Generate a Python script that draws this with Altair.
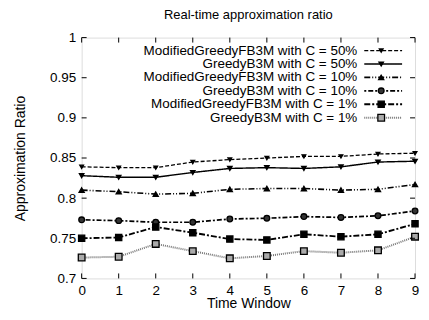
import altair as alt
import pandas as pd

windows = [0, 1, 2, 3, 4, 5, 6, 7, 8, 9]
series_names = [
    "ModifiedGreedyFB3M with C = 50%",
    "GreedyB3M with C = 50%",
    "ModifiedGreedyFB3M with C = 10%",
    "GreedyB3M with C = 10%",
    "ModifiedGreedyFB3M with C = 1%",
    "GreedyB3M with C = 1%",
]
mg50 = [0.839, 0.838, 0.838, 0.845, 0.848, 0.850, 0.852, 0.852, 0.855, 0.856]
g50 = [0.828, 0.826, 0.826, 0.832, 0.837, 0.838, 0.837, 0.839, 0.845, 0.846]
mg10 = [0.810, 0.808, 0.805, 0.806, 0.811, 0.812, 0.812, 0.810, 0.811, 0.817]
g10 = [0.773, 0.772, 0.770, 0.770, 0.774, 0.775, 0.777, 0.776, 0.778, 0.784]
mg1 = [0.750, 0.751, 0.764, 0.757, 0.749, 0.748, 0.755, 0.752, 0.755, 0.768]
g1 = [0.726, 0.727, 0.743, 0.734, 0.725, 0.728, 0.734, 0.732, 0.735, 0.752]
y_ticks = [0.7, 0.75, 0.8, 0.85, 0.9, 0.95, 1.0]

values = [mg50, g50, mg10, g10, mg1, g1]
rows = []
for name, vals in zip(series_names, values):
    for w, v in zip(windows, vals):
        rows.append({"series": name, "window": w, "ratio": v})
df = pd.DataFrame(rows)

FONT = "Liberation Sans"

dash_scale = alt.Scale(domain=series_names,
                       range=[[4, 2], [1, 0], [6, 2, 1, 2, 1, 2], [2, 2, 5, 2], [6, 2, 2, 2], [1, 1]])
stroke_scale = alt.Scale(domain=series_names,
                         range=["#000", "#000", "#000", "#000", "#000", "#777"])
width_scale = alt.Scale(domain=series_names, range=[1.3, 2.0, 1.3, 1.3, 1.3, 1.5])
shape_scale = alt.Scale(domain=series_names,
                        range=["triangle-down", "triangle-down", "triangle-up", "circle", "square", "square"])
size_scale = alt.Scale(domain=series_names, range=[14, 45, 45, 36, 32, 32])
fill_scale = alt.Scale(domain=series_names,
                       range=["#000", "#000", "#000", "#333", "#000", "#aaa"])

xs = alt.Scale(domain=[0, 9], nice=False)
ys = alt.Scale(domain=[0.7, 1.0], nice=False, zero=False)

common_axis = dict(ticks=False, grid=False, domain=False, labelOverlap=False, labelFlush=False,
                   labelFont=FONT, titleFont=FONT, labelFontSize=13.5, titleFontSize=14,
                   titleFontWeight="normal", labelColor="#000", titleColor="#000")
x_axis = alt.Axis(title="Time Window", values=windows, format="d",
                  labelPadding=5, titlePadding=0, **common_axis)
y_axis = alt.Axis(title="Approximation Ratio", values=y_ticks, format="~g",
                  labelPadding=6, titlePadding=22, **common_axis)

base = alt.Chart(df)

lines = base.mark_line().encode(
    x=alt.X("window:Q", scale=xs, axis=x_axis),
    y=alt.Y("ratio:Q", scale=ys, axis=y_axis),
    detail="series:N",
    strokeDash=alt.StrokeDash("series:N", scale=dash_scale, legend=None),
    stroke=alt.Stroke("series:N", scale=stroke_scale, legend=None),
    strokeWidth=alt.StrokeWidth("series:N", scale=width_scale, legend=None),
)

points = base.mark_point(filled=True, stroke="#000", strokeWidth=1.3, opacity=1).encode(
    x=alt.X("window:Q", scale=xs, axis=x_axis),
    y=alt.Y("ratio:Q", scale=ys, axis=y_axis),
    shape=alt.Shape("series:N", scale=shape_scale, legend=None),
    size=alt.Size("series:N", scale=size_scale, legend=None),
    fill=alt.Fill("series:N", scale=fill_scale, legend=None),
)

# inward ticks (gnuplot style, mirrored)
ytick_df = pd.DataFrame({"window": [0] * len(y_ticks), "ratio": y_ticks})
xtick_df = pd.DataFrame({"window": windows, "ratio": [0.7] * len(windows)})
yt_left = alt.Chart(ytick_df).mark_rule(color="#000").encode(
    y=alt.Y("ratio:Q", scale=ys, axis=y_axis), x=alt.value(0), x2=alt.value(5))
yt_right = alt.Chart(ytick_df).mark_rule(color="#000").encode(
    y=alt.Y("ratio:Q", scale=ys, axis=y_axis),
    x={"value": {"expr": "width - 5"}}, x2={"value": {"expr": "width"}})
xt_bottom = alt.Chart(xtick_df).mark_rule(color="#000").encode(
    x=alt.X("window:Q", scale=xs, axis=x_axis),
    y={"value": {"expr": "height"}}, y2={"value": {"expr": "height - 5"}})
xt_top = alt.Chart(xtick_df).mark_rule(color="#000").encode(
    x=alt.X("window:Q", scale=xs, axis=x_axis), y=alt.value(0), y2=alt.value(5))

# key (gnuplot style: label right-aligned, sample on the right)
leg_df = pd.DataFrame({"series": series_names, "i": list(range(len(series_names)))})
leg = alt.Chart(leg_df).transform_calculate(ry="13 + datum.i * 13.5")
leg_text = leg.mark_text(align="right", baseline="middle", font=FONT, fontSize=13.5).encode(
    y=alt.Y("ry:Q", scale=None, axis=None), x=alt.value(277), text="series:N")
leg_line = leg.mark_rule().encode(
    y=alt.Y("ry:Q", scale=None, axis=None), x=alt.value(284), x2=alt.value(322),
    strokeDash=alt.StrokeDash("series:N", scale=dash_scale, legend=None),
    stroke=alt.Stroke("series:N", scale=stroke_scale, legend=None),
    strokeWidth=alt.StrokeWidth("series:N", scale=width_scale, legend=None),
)
leg_pt = leg.mark_point(filled=True, stroke="#000", strokeWidth=1.3, opacity=1).encode(
    y=alt.Y("ry:Q", scale=None, axis=None), x=alt.value(301),
    shape=alt.Shape("series:N", scale=shape_scale, legend=None),
    size=alt.Size("series:N", scale=size_scale, legend=None),
    fill=alt.Fill("series:N", scale=fill_scale, legend=None),
)

chart = alt.layer(
    lines, points, yt_left, yt_right, xt_bottom, xt_top, leg_line, leg_pt, leg_text
).properties(
    width=415, height=304,
    autosize=alt.AutoSizeParams(type="fit", contains="padding"),
    title=alt.TitleParams("Real-time approximation ratio", font=FONT, fontSize=13,
                          fontWeight="normal", anchor="middle", offset=6, dy=-3),
).configure_view(
    stroke="#000", strokeWidth=1.5
).configure(padding={"left": 5, "top": 0, "right": 0, "bottom": 0})

chart.save("out.html", embed_options={"renderer": "svg", "actions": False})
